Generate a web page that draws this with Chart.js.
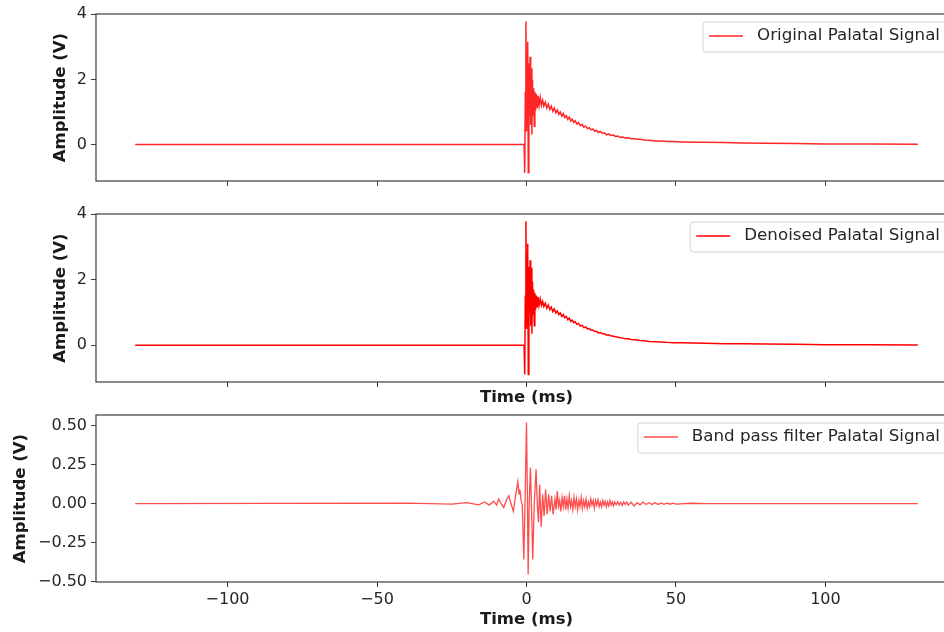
<!DOCTYPE html>
<html>
<head>
<meta charset="utf-8">
<script src="https://cdn.jsdelivr.net/npm/chart.js@4.4.1/dist/chart.umd.min.js"></script>
<style>
  html, body { margin: 0; padding: 0; background: #ffffff; width: 944px; height: 632px; overflow: hidden; position: relative; }
  canvas { position: absolute; left: 0; }
</style>
</head>
<body>
<canvas id="origChart" width="960" height="200" style="top:0px"></canvas>
<canvas id="denoisedChart" width="960" height="208" style="top:200px"></canvas>
<canvas id="bandChart" width="960" height="232" style="top:400px"></canvas>
<script>
// ---- tick positions and labels ----
const timeTicks = [-100, -50, 0, 50, 100];
const timeTickLabels = ['\u2212100', '\u221250', '0', '50', '100'];
const ampTicks = [0, 2, 4];
const ampTickLabels = ['0', '2', '4'];
const bandTicks = [-0.5, -0.25, 0, 0.25, 0.5];
const bandTickLabels = ['\u22120.50', '\u22120.25', '0.00', '0.25', '0.50'];

// ---- palatal pulse: sample times (ms) shared by original and denoised ----
const pulseTime = [
  -130.9, -60, -0.8, -0.6, -0.4, -0.2, 0, 0.2, 0.4, 0.6,
  0.8, 1.0, 1.2, 1.4, 1.6, 1.8, 2.0, 2.2, 2.4, 2.6,
  2.8, 3.0, 3.3, 3.6, 3.9, 4.2, 4.6, 5.0, 5.4, 5.8,
  6.3, 6.8, 7.3, 7.8, 8.3, 8.8, 9.3, 9.8, 10.3, 10.8,
  11.3, 11.8, 12.3, 12.8, 13.3, 13.8, 14.3, 14.8, 15.3, 15.8,
  16.3, 16.8, 17.4, 18.0, 18.6, 19.2, 19.8, 20.4, 21.0, 21.6,
  22.2, 22.8, 23.4, 24.0, 24.7, 25.4, 26.1, 26.8, 27.5, 28.2,
  29.0, 29.8, 30.6, 31.4, 32.2, 33.0, 34.0, 35.0, 36.0, 37.0,
  38.0, 39.5, 41.0, 43.0, 45.0, 47.0, 49.0, 52.0, 56.0, 60.0,
  66.0, 72.0, 80.0, 90.0, 100.0, 115.0, 130.9
];

// original palatal signal (V)
const originalAmp = [
  0, 0.005, 0, -0.87, 1.6, 3.78, 0.4, 2.9, 3.16, -0.87,
  2.5, 0.9, 2.7, 0.6, 2.34, 0.31, 2.0, 0.9, 1.73, 0.56,
  1.62, 1.05, 1.55, 1.12, 1.5, 1.2, 1.45, 1.2, 1.36, 1.18,
  1.3, 1.12, 1.24, 1.08, 1.18, 1.02, 1.12, 0.98, 1.06, 0.93,
  1.0, 0.87, 0.95, 0.83, 0.89, 0.77, 0.84, 0.72, 0.78, 0.68,
  0.73, 0.63, 0.68, 0.58, 0.62, 0.53, 0.57, 0.49, 0.52, 0.45,
  0.48, 0.41, 0.44, 0.37, 0.4, 0.34, 0.36, 0.3, 0.33, 0.28,
  0.29, 0.25, 0.26, 0.22, 0.23, 0.2, 0.21, 0.18, 0.18, 0.16,
  0.16, 0.14, 0.13, 0.11, 0.11, 0.09, 0.09, 0.08, 0.07, 0.07,
  0.06, 0.05, 0.04, 0.03, 0.02, 0.015, 0.01
];

// denoised palatal signal (V)
const denoisedAmp = [
  0, 0.003, 0, -0.89, 1.5, 3.79, 0.5, 2.8, 3.1, -0.89,
  2.4, 1.0, 2.6, 0.6, 2.37, 0.35, 1.95, 0.95, 1.7, 0.6,
  1.6, 1.08, 1.52, 1.15, 1.47, 1.22, 1.42, 1.22, 1.34, 1.19,
  1.29, 1.13, 1.23, 1.09, 1.17, 1.03, 1.11, 0.99, 1.05, 0.94,
  0.99, 0.88, 0.94, 0.84, 0.88, 0.78, 0.83, 0.73, 0.77, 0.69,
  0.72, 0.64, 0.67, 0.59, 0.61, 0.54, 0.56, 0.5, 0.51, 0.46,
  0.47, 0.42, 0.43, 0.38, 0.39, 0.35, 0.35, 0.31, 0.32, 0.29,
  0.28, 0.26, 0.25, 0.23, 0.22, 0.2, 0.2, 0.18, 0.17, 0.16,
  0.15, 0.14, 0.12, 0.11, 0.1, 0.09, 0.08, 0.08, 0.07, 0.06,
  0.05, 0.05, 0.04, 0.03, 0.02, 0.015, 0.01
];

// ---- band pass filtered signal ----
const bandTime = [
  -130.9, -40, -25, -20, -16, -14, -12.5, -11, -10, -9.3,
  -8.5, -7.6, -6.8, -5.9, -5.2, -4.4, -3.8, -2.9, -2.5, -2.2,
  -1.8, -1.4, -0.9, -0.45, 0, 0.3, 0.55, 0.9, 1.3, 1.7,
  2.1, 2.6, 3.2, 3.6, 4.0, 4.4, 4.9, 5.4, 5.9, 6.4,
  6.9, 7.4, 7.9, 8.4, 8.9, 9.5, 9.9, 10.3, 10.7, 11.1,
  11.5, 11.9, 12.3, 12.7, 13.1, 13.5, 13.9, 14.3, 14.7, 15.1,
  15.5, 15.9, 16.3, 16.7, 17.1, 17.5, 17.9, 18.3, 18.7, 19.1,
  19.5, 19.9, 20.3, 20.7, 21.1, 21.5, 21.9, 22.3, 22.7, 23.1,
  23.5, 23.9, 24.3, 24.7, 25.1, 25.5, 25.9, 26.3, 26.7, 27.1,
  27.5, 27.9, 28.3, 28.7, 29.1, 29.5, 30, 30.5, 31, 31.5,
  32, 32.5, 33, 33.5, 34, 35, 36, 37, 38, 39,
  40, 41, 42, 43, 44, 45, 46, 47, 48, 49,
  50, 55, 60, 130.9
];
const bandAmp = [
  0, 0.003, -0.004, 0.006, -0.008, 0.01, -0.01, 0.015, -0.01, 0.03,
  0.0, -0.025, 0.02, 0.05, 0.0, -0.05, 0.03, 0.14, 0.06, 0.09,
  0.02, -0.01, -0.36, 0.05, 0.52, 0.05, -0.455, 0.0, 0.23, -0.05,
  -0.36, 0.0, 0.22, 0.0, -0.12, 0.12, -0.15, 0.06, -0.08, 0.09,
  -0.07, 0.06, -0.05, 0.05, -0.07, 0.03, -0.04, 0.08, -0.02, 0.02,
  -0.05, 0.04, -0.02, 0.05, -0.04, 0.03, -0.03, 0.05, -0.02, 0.02,
  -0.04, 0.04, -0.02, 0.03, -0.04, 0.02, -0.02, 0.04, -0.03, 0.02,
  -0.02, 0.03, -0.03, 0.01, -0.02, 0.03, -0.01, 0.02, -0.03, 0.02,
  -0.01, 0.025, -0.02, 0.01, -0.02, 0.02, -0.01, 0.015, -0.02, 0.01,
  -0.015, 0.02, -0.01, 0.01, -0.015, 0.01, -0.008, 0.012, -0.01, 0.008,
  -0.012, 0.01, -0.006, 0.01, -0.01, 0.008, -0.015, 0.006, -0.008, 0.01,
  -0.006, 0.005, -0.006, 0.006, -0.006, 0.004, -0.005, 0.004, -0.004, 0.003,
  -0.003, 0.002, 0, 0
];

const FONT = '"DejaVu Sans", "Liberation Sans", sans-serif';
const TICK_COLOR = '#262626';
const SPINE_COLOR = '#3c3c3c';

// Closed axes frame plus a boxed legend in the upper-right corner
const frameLegend = {
  id: 'frameLegend',
  afterDatasetsDraw(chart) {
    const { ctx, chartArea: a } = chart;
    ctx.save();
    ctx.strokeStyle = SPINE_COLOR;
    ctx.lineWidth = 1.2;
    ctx.strokeRect(a.left, a.top, a.right - a.left, a.bottom - a.top);

    const ds = chart.data.datasets[0];
    ctx.font = '16.7px ' + FONT;
    const tw = ctx.measureText(ds.label).width;
    const textRight = a.right - 17;
    const textLeft = textRight - tw;
    const boxL = textLeft - 54, boxR = textRight + 9;
    const boxT = a.top + 8, boxB = boxT + 30;
    const r = 3;
    ctx.beginPath();
    ctx.moveTo(boxL + r, boxT);
    ctx.lineTo(boxR - r, boxT);
    ctx.quadraticCurveTo(boxR, boxT, boxR, boxT + r);
    ctx.lineTo(boxR, boxB - r);
    ctx.quadraticCurveTo(boxR, boxB, boxR - r, boxB);
    ctx.lineTo(boxL + r, boxB);
    ctx.quadraticCurveTo(boxL, boxB, boxL, boxB - r);
    ctx.lineTo(boxL, boxT + r);
    ctx.quadraticCurveTo(boxL, boxT, boxL + r, boxT);
    ctx.closePath();
    ctx.fillStyle = 'rgba(255,255,255,0.85)';
    ctx.fill();
    ctx.strokeStyle = '#d4d4d4';
    ctx.lineWidth = 1;
    ctx.stroke();

    const midY = boxT + 14;
    ctx.beginPath();
    ctx.moveTo(textLeft - 48, midY);
    ctx.lineTo(textLeft - 14, midY);
    ctx.strokeStyle = ds.borderColor;
    ctx.lineWidth = 1.5;
    ctx.stroke();

    ctx.fillStyle = TICK_COLOR;
    ctx.textBaseline = 'middle';
    ctx.textAlign = 'left';
    ctx.fillText(ds.label, textLeft, midY);
    ctx.restore();
  }
};

function fixedTicks(values) {
  return scale => { scale.ticks = values.map(v => ({ value: v })); };
}

function makePanel(id, opt) {
  const points = opt.time.map((t, i) => ({ x: t, y: opt.values[i] }));
  return new Chart(document.getElementById(id), {
    type: 'line',
    data: {
      datasets: [{
        label: opt.label,
        data: points,
        borderColor: opt.color,
        borderWidth: opt.width,
        pointRadius: 0,
        tension: 0,
        fill: false
      }]
    },
    options: {
      responsive: false,
      animation: false,
      devicePixelRatio: 1,
      layout: { padding: { top: opt.padTop, right: 3, bottom: opt.padBottom, left: 0 } },
      plugins: { legend: { display: false }, tooltip: { enabled: false } },
      scales: {
        x: {
          type: 'linear',
          min: -144,
          max: 144,
          afterBuildTicks: fixedTicks(timeTicks),
          afterFit: s => { s.height = opt.xHeight; },
          grid: { drawOnChartArea: false, drawTicks: true, tickLength: 5, color: SPINE_COLOR },
          border: { display: false },
          ticks: {
            display: opt.xLabels,
            autoSkip: false,
            maxRotation: 0,
            padding: 3,
            color: TICK_COLOR,
            font: { family: FONT, size: 16 },
            callback: (v, i) => timeTickLabels[i]
          },
          title: {
            display: opt.xTitle,
            text: 'Time (ms)',
            color: '#1a1a1a',
            font: { family: FONT, size: 16.5, weight: 'bold' },
            padding: { top: 0, bottom: 0 }
          }
        },
        y: {
          type: 'linear',
          min: opt.yMin,
          max: opt.yMax,
          afterBuildTicks: fixedTicks(opt.yTicks),
          afterFit: s => { s.width = 96; },
          grid: { drawOnChartArea: false, drawTicks: true, tickLength: 5, color: SPINE_COLOR },
          border: { display: false },
          ticks: {
            padding: 4,
            color: TICK_COLOR,
            font: { family: FONT, size: 16 },
            callback: (v, i) => opt.yLabels[i]
          },
          title: {
            display: true,
            text: 'Amplitude (V)',
            color: '#1a1a1a',
            font: { family: FONT, size: 16.5, weight: 'bold' },
            padding: { top: opt.yTitlePad, bottom: 0 }
          }
        }
      }
    },
    plugins: [frameLegend]
  });
}

makePanel('origChart', {
  label: 'Original Palatal Signal', time: pulseTime, values: originalAmp,
  color: 'rgba(255,0,0,0.85)', width: 1.5, padTop: 14, padBottom: 0, xHeight: 19,
  xLabels: false, xTitle: false,
  yMin: -1.12, yMax: 4.01, yTicks: ampTicks, yLabels: ampTickLabels, yTitlePad: 51
});

makePanel('denoisedChart', {
  label: 'Denoised Palatal Signal', time: pulseTime, values: denoisedAmp,
  color: 'rgb(255,0,0)', width: 1.5, padTop: 14, padBottom: 0, xHeight: 26,
  xLabels: false, xTitle: true,
  yMin: -1.12, yMax: 4.01, yTicks: ampTicks, yLabels: ampTickLabels, yTitlePad: 51
});

makePanel('bandChart', {
  label: 'Band pass filter Palatal Signal', time: bandTime, values: bandAmp,
  color: 'rgba(255,0,0,0.7)', width: 1.3, padTop: 15, padBottom: 2, xHeight: 48,
  xLabels: true, xTitle: true,
  yMin: -0.504, yMax: 0.569, yTicks: bandTicks, yLabels: bandTickLabels, yTitlePad: 11
});
</script>
</body>
</html>
